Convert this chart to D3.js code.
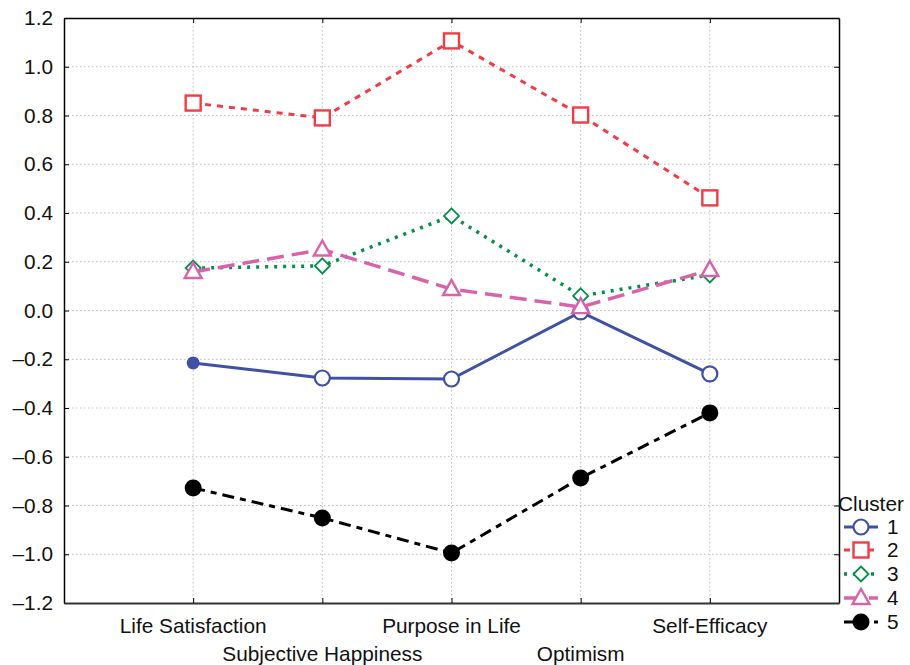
<!DOCTYPE html>
<html><head><meta charset="utf-8">
<script src="https://cdn.jsdelivr.net/npm/d3@7"></script>
<style>body{margin:0;background:#fff}svg{display:block}text{font-family:"Liberation Sans",Arial,sans-serif}</style>
</head><body>
<script>
const categories = ["Life Satisfaction","Subjective Happiness","Purpose in Life","Optimism","Self-Efficacy"];
const yTicks = [-1.2,-1.0,-0.8,-0.6,-0.4,-0.2,0.0,0.2,0.4,0.6,0.8,1.0,1.2];
const cluster1 = [-0.215,-0.277,-0.281,-0.006,-0.26];
const cluster2 = [0.851,0.79,1.106,0.802,0.462];
const cluster3 = [0.174,0.183,0.388,0.06,0.146];
const cluster4 = [0.158,0.25,0.088,0.014,0.166];
const cluster5 = [-0.728,-0.851,-0.995,-0.687,-0.42];
const seriesNames = ["1","2","3","4","5"];

const W=910,H=665;
const L=64,R=839,T=18,B=603;
const FS=20.8;
const svg=d3.select("body").append("svg").attr("width",W).attr("height",H);
const x=d3.scaleLinear().domain([0,categories.length+1]).range([L,R]);
const y=d3.scaleLinear().domain([-1.2,1.2]).range([B,T]);

// grid
const g=svg.append("g");
g.selectAll(".hg").data(yTicks.slice(1,-1)).join("line")
 .attr("x1",L).attr("x2",R).attr("y1",d=>y(d)).attr("y2",d=>y(d))
 .attr("stroke","#bbb").attr("stroke-width",1).attr("stroke-dasharray","1.5,2.5");
g.selectAll(".vg").data(categories).join("line")
 .attr("x1",(d,i)=>x(i+1)).attr("x2",(d,i)=>x(i+1)).attr("y1",T).attr("y2",B)
 .attr("stroke","#bbb").attr("stroke-width",1).attr("stroke-dasharray","1.5,2.5");

// axes
const fmt=d=>(d<0?"\u2013":"")+Math.abs(d).toFixed(1);
const yAxis=d3.axisLeft(y).tickValues(yTicks).tickFormat(fmt).tickSizeInner(-5).tickSizeOuter(0).tickPadding(11);
const ya=svg.append("g").attr("transform",`translate(${L},0)`).call(yAxis);
ya.select(".domain").attr("stroke","#000").attr("stroke-width",1.5);
ya.selectAll("text").attr("font-size",FS).attr("fill","#111");
const yAxisR=d3.axisRight(y).tickValues(yTicks).tickFormat("").tickSizeInner(-5).tickSizeOuter(0);
const yr=svg.append("g").attr("transform",`translate(${R},0)`).call(yAxisR);
yr.select(".domain").attr("stroke","#000").attr("stroke-width",1.5);
const xAxis=d3.axisBottom(x).tickValues(categories.map((d,i)=>i+1)).tickFormat("").tickSizeInner(-5).tickSizeOuter(0);
const xa=svg.append("g").attr("transform",`translate(0,${B})`).call(xAxis);
xa.select(".domain").attr("stroke","#333").attr("stroke-width",2);
const xAxisT=d3.axisTop(x).tickValues(categories.map((d,i)=>i+1)).tickFormat("").tickSizeInner(-5).tickSizeOuter(0);
const xt=svg.append("g").attr("transform",`translate(0,${T})`).call(xAxisT);
xt.select(".domain").attr("stroke","#000").attr("stroke-width",1.5);
svg.selectAll(".tick line").attr("stroke","#000");

svg.append("g").selectAll("text").data(categories).join("text")
 .attr("x",(d,i)=>x(i+1)).attr("y",(d,i)=>i%2===0?633:661)
 .attr("text-anchor","middle").attr("font-size",FS).attr("fill","#111").text(d=>d);

const series=[
 {name:seriesNames[0],vals:cluster1,color:"#3f51a5",dash:null,w:3,mk:"circle"},
 {name:seriesNames[1],vals:cluster2,color:"#f03c46",dash:"6,6",w:3,mk:"square"},
 {name:seriesNames[2],vals:cluster3,color:"#00904a",dash:"3,6",w:3.5,mk:"diamond"},
 {name:seriesNames[3],vals:cluster4,color:"#d963aa",dash:"17,8",w:3.5,mk:"triangle"},
 {name:seriesNames[4],vals:cluster5,color:"#000",dash:"12,6,6,6",w:3,mk:"dot"}
];
const line=d3.line().x((d,i)=>x(i+1)).y(d=>y(d));

function marker(sel,mk,color,cx,cy){
  if(mk==="circle"){
    sel.append("circle").attr("cx",cx).attr("cy",cy).attr("r",7.5)
      .attr("fill","#fff").attr("stroke",color).attr("stroke-width",2.2);
  } else if(mk==="square"){
    sel.append("rect").attr("x",cx-7.5).attr("y",cy-7.5).attr("width",15).attr("height",15)
      .attr("fill","#fff").attr("stroke",color).attr("stroke-width",2.4);
  } else if(mk==="diamond"){
    sel.append("path").attr("d",`M${cx},${cy-7.5}L${cx+7.5},${cy}L${cx},${cy+7.5}L${cx-7.5},${cy}Z`)
      .attr("fill","#fff").attr("stroke",color).attr("stroke-width",1.8);
  } else if(mk==="triangle"){
    sel.append("path").attr("d",`M${cx},${cy-9}L${cx+8.5},${cy+6}L${cx-8.5},${cy+6}Z`)
      .attr("fill","#fff").attr("stroke",color).attr("stroke-width",2.4);
  } else {
    sel.append("circle").attr("cx",cx).attr("cy",cy).attr("r",8.5).attr("fill",color);
  }
}

series.forEach(s=>{
  const gg=svg.append("g");
  gg.append("path").datum(s.vals).attr("d",line).attr("fill","none")
    .attr("stroke",s.color).attr("stroke-width",s.w).attr("stroke-dasharray",s.dash);
  s.vals.forEach((v,i)=>{
    if(s.mk==="circle" && i===0){
      gg.append("circle").attr("cx",x(i+1)).attr("cy",y(v)).attr("r",6.5).attr("fill",s.color);
    } else marker(gg,s.mk,s.color,x(i+1),y(v));
  });
});

// legend
const lg=svg.append("g");
lg.append("text").attr("x",838).attr("y",511).attr("font-size",FS).attr("fill","#111").text("Cluster");
const ly=[527,550,574,598,622];
series.forEach((s,i)=>{
  lg.append("line").attr("x1",844).attr("x2",878).attr("y1",ly[i]).attr("y2",ly[i])
    .attr("stroke",s.color).attr("stroke-width",s.w).attr("stroke-dasharray",s.dash);
  marker(lg,s.mk,s.color,861,ly[i]);
  lg.append("text").attr("x",887).attr("y",ly[i]+7).attr("font-size",FS).attr("fill","#111").text(s.name);
});
</script>
</body></html>
